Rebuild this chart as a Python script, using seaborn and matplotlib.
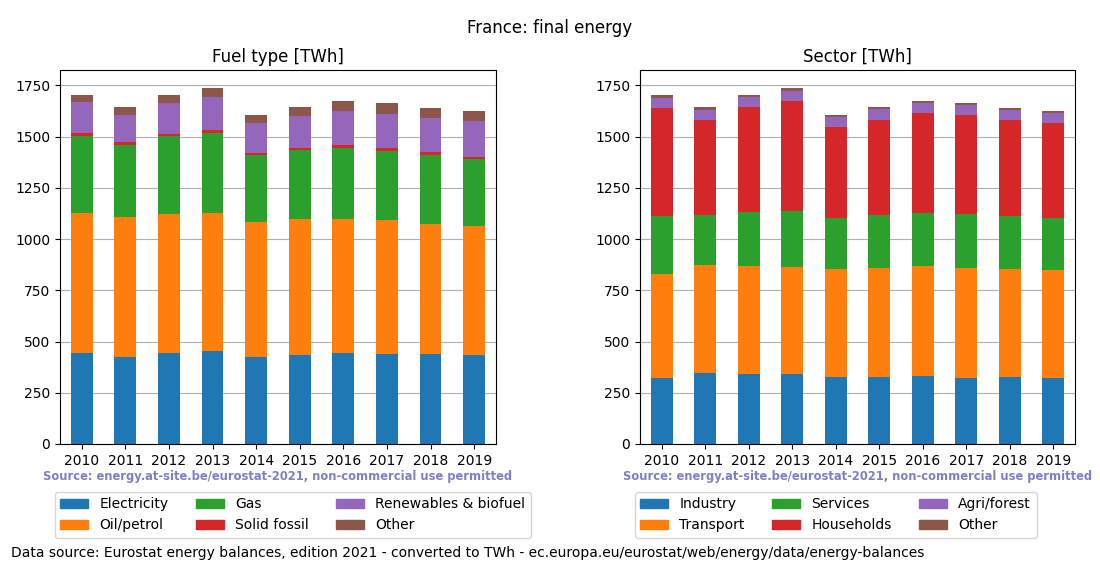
import numpy as np
import pandas as pd
import matplotlib
matplotlib.use("Agg")
import matplotlib.pyplot as plt
from matplotlib.patches import Patch
import seaborn as sns

years = [2010, 2011, 2012, 2013, 2014, 2015, 2016, 2017, 2018, 2019]

# fuel type [TWh]
fuel_names = ["Electricity", "Oil/petrol", "Gas", "Solid fossil", "Renewables & biofuel", "Other"]
electricity = [444, 425, 444, 454, 425, 434, 444, 439, 439, 434]
oil_petrol = [683, 683, 679, 673, 659, 664, 654, 654, 635, 630]
gas = [375, 351, 382, 391, 327, 337, 347, 337, 337, 327]
solid_fossil = [16, 15, 10, 13, 9, 10, 14, 15, 14, 10]
renewables = [151, 132, 149, 163, 147, 156, 166, 166, 166, 176]
other_fuel = [34, 39, 39, 44, 39, 44, 49, 53, 49, 48]

# sector [TWh]
sector_names = ["Industry", "Transport", "Services", "Households", "Agri/forest", "Other"]
industry = [322, 347, 342, 342, 327, 327, 332, 322, 327, 322]
transport = [508, 527, 527, 522, 527, 532, 537, 537, 527, 527]
services = [283, 244, 263, 273, 249, 259, 259, 264, 259, 254]
households = [527, 463, 513, 537, 444, 463, 488, 483, 468, 464]
agri_forest = [49, 49, 49, 49, 49, 54, 48, 49, 49, 49]
other_sector = [14, 15, 9, 15, 10, 10, 10, 9, 10, 9]

colors = sns.color_palette("tab10", 6)
source_txt = "Source: energy.at-site.be/eurostat-2021, non-commercial use permitted"


def stacked(ax, names, series, title):
    df = pd.DataFrame(dict(zip(names, series)), index=[str(y) for y in years])
    cum = df.cumsum(axis=1)
    # draw from the top layer down so lower layers cover the upper totals
    for i in range(len(names) - 1, -1, -1):
        sns.barplot(x=cum.index, y=cum[names[i]].values, color=colors[i],
                    width=0.5, saturation=1, linewidth=0, edgecolor="none", ax=ax)
    ax.set_xlim(-0.5, len(years) - 0.5)
    ax.set_ylim(0, cum.iloc[:, -1].max() * 1.05)
    ax.set_title(title, fontsize=12)
    ax.set_xlabel("")
    ax.set_ylabel("")
    ax.yaxis.grid(True, color="#b0b0b0", linewidth=0.8)
    ax.set_axisbelow(True)
    ax.tick_params(axis="x", rotation=0)
    ax.text(0.5, -0.088, source_txt, transform=ax.transAxes, ha="center", va="center",
            fontsize=8.3, fontweight="bold", color="#7f7fc8")
    handles = [Patch(color=colors[i], label=names[i]) for i in range(len(names))]
    ax.legend(handles=handles, ncol=3, loc="upper left", bbox_to_anchor=(-0.012, -0.128),
              borderaxespad=0, fontsize=10)


plt.rcParams["font.family"] = ["DejaVu Sans"]
fig = plt.figure(figsize=(11, 5.72), dpi=100)
ax1 = fig.add_axes([0.0545, 0.2238, 0.3964, 0.6538])
ax2 = fig.add_axes([0.5818, 0.2238, 0.3955, 0.6538])

stacked(ax1, fuel_names, [electricity, oil_petrol, gas, solid_fossil, renewables, other_fuel],
        "Fuel type [TWh]")
stacked(ax2, sector_names, [industry, transport, services, households, agri_forest, other_sector],
        "Sector [TWh]")

fig.suptitle("France: final energy", fontsize=12, y=0.967)
fig.text(0.01, 0.033, "Data source: Eurostat energy balances, edition 2021 - converted to TWh - "
         "ec.europa.eu/eurostat/web/energy/data/energy-balances", fontsize=10, va="center")

fig.savefig("out.png", dpi=100)
